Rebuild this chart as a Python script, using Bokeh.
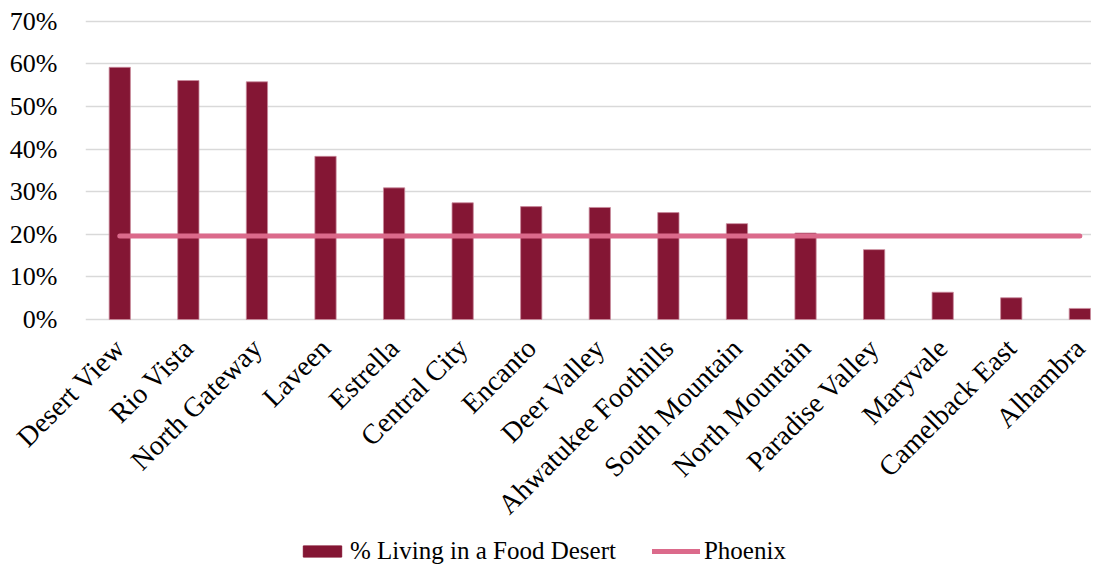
import math
from bokeh.plotting import figure
from bokeh.layouts import column
from bokeh.models import Range1d, FixedTicker, NumeralTickFormatter, Legend, LegendItem, ColumnDataSource
from bokeh.embed import file_html
from bokeh.resources import INLINE

categories = ["Desert View", "Rio Vista", "North Gateway", "Laveen", "Estrella",
              "Central City", "Encanto", "Deer Valley", "Ahwatukee Foothills",
              "South Mountain", "North Mountain", "Paradise Valley", "Maryvale",
              "Camelback East", "Alhambra"]
food_desert = [0.592, 0.561, 0.558, 0.383, 0.309, 0.274, 0.265, 0.263, 0.251,
               0.225, 0.203, 0.164, 0.064, 0.051, 0.026]
phoenix = [0.196] * len(categories)
y_ticks = [0, 0.1, 0.2, 0.3, 0.4, 0.5, 0.6, 0.7]
series_names = ["% Living in a Food Desert", "Phoenix"]

FONT = "Liberation Serif"
BAR_COLOR = "#841634"
LINE_COLOR = "#DB6A8B"
idx = list(range(len(categories)))

p = figure(width=1091, height=537, output_backend="svg", toolbar_location=None,
           x_range=Range1d(-0.5, 14.17), y_range=Range1d(-0.0047, 0.7207),
           min_border_left=85, min_border_right=0, min_border_top=12, min_border_bottom=216)
p.outline_line_color = None
p.background_fill_color = "white"

src = ColumnDataSource(dict(x=idx, top=food_desert, ph=phoenix))
p.vbar(x="x", top="top", bottom=0, width=0.31, source=src,
       fill_color=BAR_COLOR, line_color="#C98A9C", line_width=0.8)
p.line(x="x", y="ph", source=src, line_color=LINE_COLOR, line_width=5, line_cap="round")

p.xaxis.ticker = FixedTicker(ticks=idx)
p.xaxis.major_label_overrides = {i: c for i, c in enumerate(categories)}
p.xaxis.major_label_orientation = math.pi / 4
p.yaxis.ticker = FixedTicker(ticks=y_ticks)
p.yaxis.formatter = NumeralTickFormatter(format="0%")
for ax in (p.xaxis, p.yaxis):
    ax.axis_line_color = None
    ax.major_tick_line_color = None
    ax.minor_tick_line_color = None
    ax.major_label_text_font = FONT
    ax.major_label_text_color = "black"
p.yaxis.major_label_text_font_size = "26px"
p.xaxis.major_label_text_font_size = "28px"
p.xaxis.major_label_standoff = 16
p.yaxis.major_label_standoff = 22

p.xgrid.grid_line_color = None
p.ygrid.ticker = FixedTicker(ticks=y_ticks)
p.ygrid.grid_line_color = "#D9D9D9"
p.ygrid.grid_line_width = 1.5

# legend strip: same data and styles, drawn out of view so only the legend shows
lg = figure(width=1091, height=28, output_backend="svg", toolbar_location=None,
            x_range=Range1d(100, 101), y_range=Range1d(100, 101),
            min_border_left=0, min_border_right=0, min_border_top=0, min_border_bottom=0)
lg.axis.visible = False
lg.grid.visible = False
lg.outline_line_color = None
r_bar = lg.vbar(x="x", top="top", bottom=0, width=0.31, source=src,
                fill_color=BAR_COLOR, line_color=BAR_COLOR)
r_line = lg.line(x="x", y="ph", source=src, line_color=LINE_COLOR, line_width=5, line_cap="round")
legend = Legend(items=[LegendItem(label=series_names[0], renderers=[r_bar]),
                       LegendItem(label=series_names[1], renderers=[r_line])],
                orientation="horizontal", location=(213, 0),
                label_text_font=FONT, label_text_font_size="25px", label_text_color="black",
                glyph_width=48, glyph_height=14, label_standoff=4, spacing=36,
                padding=0, margin=0, border_line_alpha=0, background_fill_alpha=0)
lg.add_layout(legend, "center")

layout = column(p, lg, spacing=0)
open("out.html", "w").write(file_html(layout, INLINE))
